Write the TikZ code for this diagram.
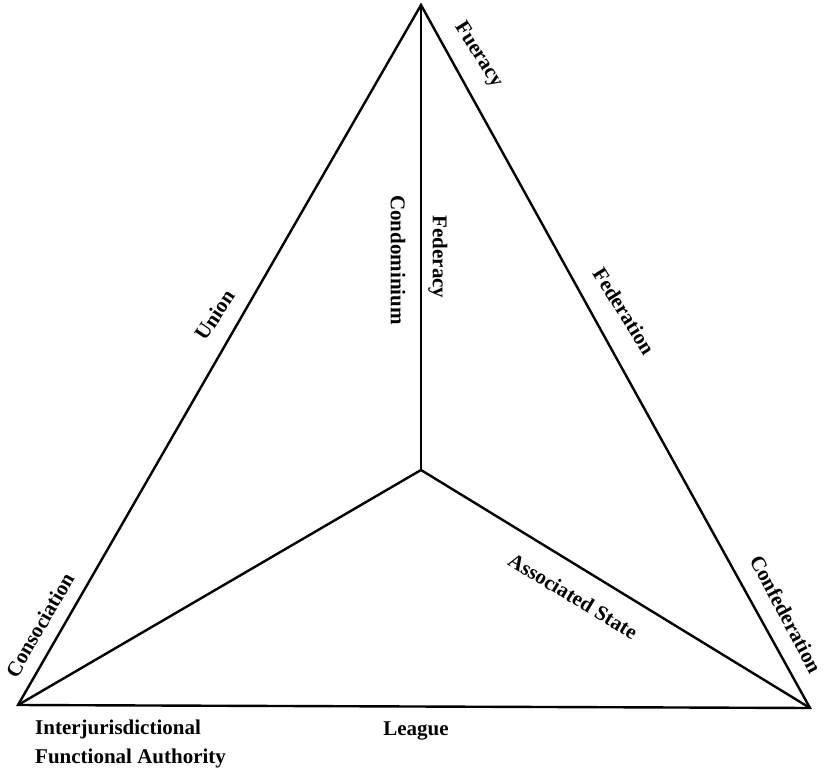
\documentclass[tikz,border=0pt]{standalone}
\usepackage{fontspec}
\setmainfont{Liberation Serif}
\begin{document}
\begin{tikzpicture}[x=1pt,y=-1pt,
  edge/.style={line width=2.4pt,line join=miter,line cap=round},
  lbl/.style={font=\bfseries\fontsize{21}{29}\selectfont,inner sep=0pt}]
\useasboundingbox (0,0) rectangle (825,768);
\coordinate (T) at (421,5);
\coordinate (L) at (18,705);
\coordinate (R) at (810,708);
\coordinate (C) at (421,470);
\draw[edge] (L) -- (T) -- (R) -- cycle;
\draw[edge] (T) -- (C);
\draw[edge] (L) -- (C) -- (R);
\node[lbl,rotate=-58] (fuer) at (478,55) {Fueracy};
\node[lbl,rotate=56] (union) at (215,315) {Union};
\node[lbl,rotate=-90] (condo) at (398,260) {Condominium};
\node[lbl,rotate=-90] (fedc) at (438,257) {Federacy};
\node[lbl,rotate=-58] (fedn) at (624,311) {Federation};
\node[lbl,rotate=-62] (conf) at (786,614) {Confederation};
\node[lbl,rotate=60] (cons) at (40,625) {Consociation};
\node[lbl,rotate=-31] (assoc) at (573,596) {Associated State};
\node[lbl] (league) at (416,731) {League};
\node[lbl,anchor=north west,align=left] (ifa) at (35,720) {Interjurisdictional\\Functional Authority};
\end{tikzpicture}
\end{document}
